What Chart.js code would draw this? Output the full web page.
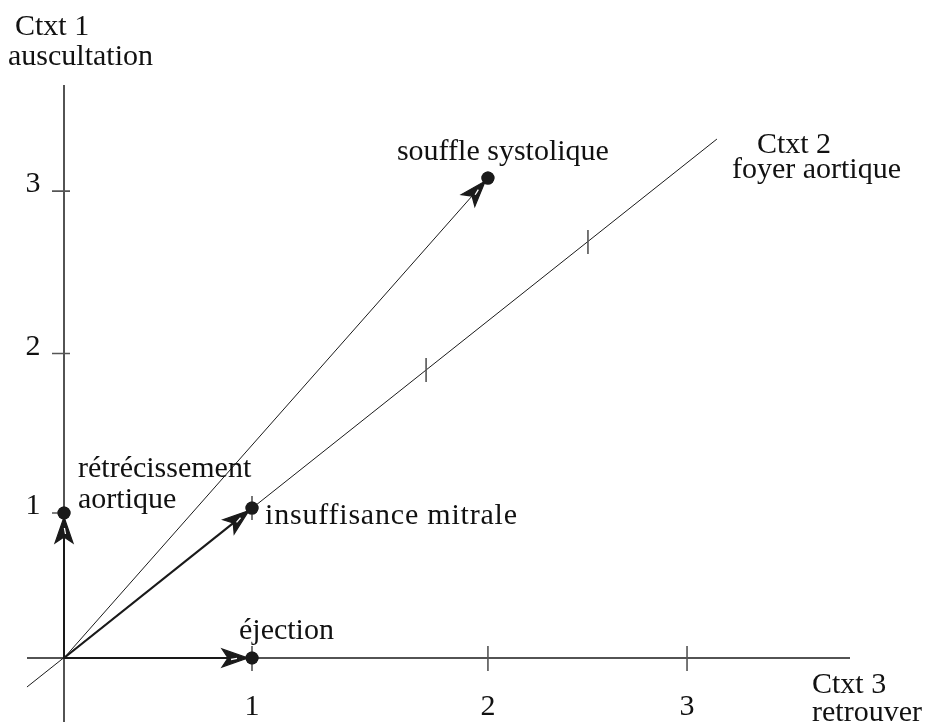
<!DOCTYPE html>
<html>
<head>
<meta charset="utf-8">
<script src="https://cdn.jsdelivr.net/npm/chart.js@4/dist/chart.umd.min.js"></script>
<style>
  html, body { margin: 0; padding: 0; background: #ffffff; }
  #wrap { width: 927px; height: 722px; position: relative; }
</style>
</head>
<body>
<div id="wrap"><canvas id="c"></canvas></div>
<script>
// ---- Data (plane units: x = Ctxt 3 units, y = Ctxt 1 units) ----
const ctxt3TickLabels = ['1', '2', '3'];
const ctxt3TickX = [1.0, 2.255, 3.314];

const ctxt1TickLabels = ['1', '2', '3'];
const ctxt1TickY = [1.0, 2.10, 3.22];

const ctxt2TickX = [1.0, 1.926, 2.787];
const ctxt2TickY = [1.034, 1.986, 2.869];

const pointNames = ['rétrécissement aortique', 'éjection', 'insuffisance mitrale', 'souffle systolique'];
const pointX = [0, 1.0, 1.0, 2.255];
const pointY = [1.0, 0, 1.034, 3.310];

const ctxt3AxisX = [-0.197, 4.181];
const ctxt1AxisY = [-0.441, 3.952];
const ctxt2AxisX = [-0.197, 3.473];
const ctxt2AxisY = [-0.200, 3.579];

const axisTitles = {
  ctxt1: ['Ctxt 1', 'auscultation'],
  ctxt2: ['Ctxt 2', 'foyer aortique'],
  ctxt3: ['Ctxt 3', 'retrouver']
};

// ---- Chart ----
const FONT = '30px "Liberation Serif", "Times New Roman", serif';
const INK = '#1a1a1a';

function seg(xs, ys) {
  return [{x: xs[0], y: ys[0]}, {x: xs[1], y: ys[1]}];
}
function lineDs(data, width) {
  return { data, showLine: true, borderColor: INK, borderWidth: width,
           pointRadius: 0, fill: false, clip: false, tension: 0 };
}

const datasets = [
  lineDs(seg(ctxt3AxisX, [0, 0]), 1.5),
  lineDs(seg([0, 0], ctxt1AxisY), 1.5),
  lineDs(seg(ctxt2AxisX, ctxt2AxisY), 1.0),
  // arrow shafts from origin to each point
  lineDs(seg([0, pointX[0]], [0, pointY[0]]), 2.0),
  lineDs(seg([0, pointX[1]], [0, pointY[1]]), 2.0),
  lineDs(seg([0, pointX[2]], [0, pointY[2]]), 2.2),
  lineDs(seg([0, pointX[3]], [0, pointY[3]]), 1.0),
  { data: pointX.map((x, i) => ({x, y: pointY[i]})), showLine: false,
    pointRadius: 6.5, pointBackgroundColor: INK, pointBorderColor: INK,
    pointBorderWidth: 0, clip: false }
];

const diagramPlugin = {
  id: 'diagram',
  afterDatasetsDraw(chart) {
    const ctx = chart.ctx;
    const xs = chart.scales.x, ys = chart.scales.y;
    const X = v => xs.getPixelForValue(v);
    const Y = v => ys.getPixelForValue(v);
    const ox = X(0), oy = Y(0);

    ctx.save();
    // tick marks
    ctx.strokeStyle = '#555';
    ctx.lineWidth = 1.6;
    ctx.beginPath();
    ctxt3TickX.forEach(v => { ctx.moveTo(X(v), oy - 12); ctx.lineTo(X(v), oy + 13); });
    ctxt1TickY.forEach(v => { ctx.moveTo(ox - 12, Y(v)); ctx.lineTo(ox + 6, Y(v)); });
    ctxt2TickX.forEach((v, i) => { ctx.moveTo(X(v), Y(ctxt2TickY[i]) - 12); ctx.lineTo(X(v), Y(ctxt2TickY[i]) + 12); });
    ctx.stroke();

    // arrowheads
    pointX.forEach((vx, i) => {
      const px = X(vx), py = Y(pointY[i]);
      let dx = px - ox, dy = py - oy;
      const len = Math.hypot(dx, dy);
      dx /= len; dy /= len;
      const nx = -dy, ny = dx;
      const L = 26, W = 9, N = 6;
      const tx = px - dx * 4, ty = py - dy * 4;
      const bx = tx - dx * L, by = ty - dy * L;
      const kx = tx - dx * (L - N), ky = ty - dy * (L - N);
      ctx.fillStyle = INK;
      ctx.strokeStyle = INK;
      ctx.lineWidth = 1.2;
      ctx.lineJoin = 'miter';
      ctx.beginPath();
      ctx.moveTo(tx, ty);
      ctx.lineTo(bx + nx * W, by + ny * W);
      ctx.lineTo(kx, ky);
      ctx.lineTo(bx - nx * W, by - ny * W);
      ctx.closePath();
      ctx.fill();
      ctx.stroke();
      ctx.strokeStyle = '#ffffff';
      ctx.lineWidth = 1.3;
      ctx.beginPath();
      ctx.moveTo(kx + dx * 3 + nx * 1.5, ky + dy * 3 + ny * 1.5);
      ctx.lineTo(kx + dx * 9 + nx * 0.4, ky + dy * 9 + ny * 0.4);
      ctx.stroke();
    });
    // redraw dots on top
    pointX.forEach((vx, i) => {
      ctx.fillStyle = INK;
      ctx.beginPath();
      ctx.arc(X(vx), Y(pointY[i]), 6.5, 0, Math.PI * 2);
      ctx.fill();
    });

    // text
    ctx.font = FONT;
    ctx.fillStyle = '#111';
    ctx.textBaseline = 'alphabetic';

    ctx.textAlign = 'center';
    ctxt3TickX.forEach((v, i) => ctx.fillText(ctxt3TickLabels[i], X(v), oy + 57));
    ctxt1TickY.forEach((v, i) => ctx.fillText(ctxt1TickLabels[i], ox - 31, Y(v) + 1));

    ctx.textAlign = 'left';
    // axis titles
    const yTop = Y(ctxt1AxisY[1]);
    ctx.fillText(axisTitles.ctxt1[0], ox - 49, yTop - 50);
    ctx.fillText(axisTitles.ctxt1[1], ox - 56, yTop - 20);
    const dEx = X(ctxt2AxisX[1]), dEy = Y(ctxt2AxisY[1]);
    ctx.fillText(axisTitles.ctxt2[0], dEx + 40, dEy + 14);
    ctx.fillText(axisTitles.ctxt2[1], dEx + 15, dEy + 39);
    const xEnd = X(ctxt3AxisX[1]);
    ctx.fillText(axisTitles.ctxt3[0], xEnd - 38, oy + 35);
    ctx.fillText(axisTitles.ctxt3[1], xEnd - 38, oy + 63);

    // point labels
    const P = i => [X(pointX[i]), Y(pointY[i])];
    let [ax, ay] = P(0);
    ctx.fillText('rétrécissement', ax + 14, ay - 36);
    ctx.fillText('aortique', ax + 14, ay - 5);
    [ax, ay] = P(1);
    ctx.fillText(pointNames[1], ax - 13, ay - 19);
    [ax, ay] = P(2);
    ctx.letterSpacing = '0.8px';
    ctx.fillText(pointNames[2], ax + 13, ay + 16);
    ctx.letterSpacing = '0px';
    [ax, ay] = P(3);
    ctx.fillText(pointNames[3], ax - 91, ay - 18);
    ctx.restore();
  }
};

new Chart(document.getElementById('c'), {
  type: 'scatter',
  data: { datasets },
  options: {
    responsive: true,
    maintainAspectRatio: false,
    animation: false,
    layout: { padding: 0, autoPadding: false },
    plugins: { legend: { display: false }, tooltip: { enabled: false } },
    scales: {
      x: { type: 'linear', display: false, min: -64 / 188, max: 863 / 188 },
      y: { type: 'linear', display: false, min: -64 / 145, max: 658 / 145 }
    }
  },
  plugins: [diagramPlugin]
});
</script>
</body>
</html>
